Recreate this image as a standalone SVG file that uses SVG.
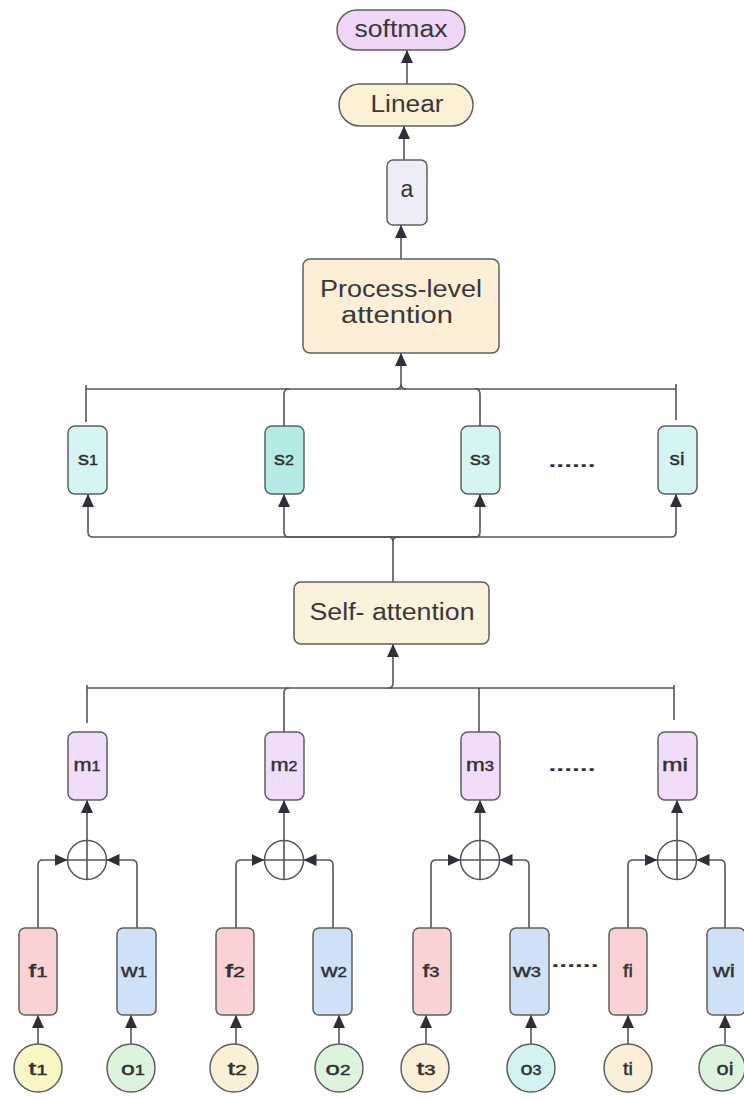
<svg xmlns="http://www.w3.org/2000/svg" width="744" height="1101" viewBox="0 0 744 1101">
<style>
.box{stroke:#5f5f5f;stroke-width:1.5}
.ln{fill:none;stroke:#555;stroke-width:1.6}
.ar{marker-end:url(#ah)}
text{font-family:"Liberation Sans",Arial,sans-serif;fill:#333;text-anchor:middle}
.big{font-size:23px;fill:#383838}
.sm{font-size:19px;stroke:#2a2a2a;stroke-width:0.4}
.d{font-size:14px}
.dots{font-size:18px;font-weight:bold;fill:#333}
.op{fill:#fff;stroke:#555;stroke-width:1.5}
</style>
<defs>
<marker id="ah" markerUnits="userSpaceOnUse" markerWidth="13" markerHeight="12" refX="13" refY="6" orient="auto"><path d="M0,0 L13,6 L0,12 z" fill="#2d3038"/></marker>
</defs>
<rect width="744" height="1101" fill="#fff"/>

<g id="connectors">
<path class="ln ar" d="M407,84 V50"/>
<path class="ln ar" d="M404,160 V126"/>
<path class="ln ar" d="M401,259 V225"/>
<path class="ln ar" d="M401,384 V353"/>
<path class="ln" d="M396,389 Q401,389 401,384 Q401,389 406,389"/>
<path class="ln" d="M86,389 H676"/>
<path class="ln" d="M86,385 V422"/>
<path class="ln" d="M676,384 V420"/>
<path class="ln" d="M284,426 V394 Q284,389 289,389"/>
<path class="ln" d="M480,426 V394 Q480,389 475,389"/>
<path class="ln" d="M393,582 V542 Q393,537 388,537 M393,542 Q393,537 398,537"/>
<path class="ln ar" d="M393,537 H93 Q88,537 88,532 V494"/>
<path class="ln ar" d="M393,537 H289 Q284,537 284,532 V494"/>
<path class="ln ar" d="M393,537 H475 Q480,537 480,532 V494"/>
<path class="ln ar" d="M393,537 H671 Q676,537 676,532 V494"/>
<path class="ln ar" d="M388,688 Q393,688 393,683 V644"/>
<path class="ln" d="M87,688 H674"/>
<path class="ln" d="M87,685 V723"/>
<path class="ln" d="M284,732 V693 Q284,688 289,688"/>
<path class="ln" d="M479,688 V732"/>
<path class="ln" d="M674,685 V720"/>
<path class="ln ar" d="M87,840.5 V800"/>
<path class="ln ar" d="M38,928 V865 Q38,860 43,860 H67.5"/>
<path class="ln ar" d="M137,928 V865 Q137,860 132,860 H106.5"/>
<path class="ln ar" d="M38,1044 V1015"/>
<path class="ln ar" d="M131,1044 V1015"/>
<path class="ln ar" d="M284,840.5 V800"/>
<path class="ln ar" d="M236,928 V865 Q236,860 241,860 H264.5"/>
<path class="ln ar" d="M333,928 V865 Q333,860 328,860 H303.5"/>
<path class="ln ar" d="M236,1044 V1015"/>
<path class="ln ar" d="M339,1044 V1015"/>
<path class="ln ar" d="M480,840.5 V800"/>
<path class="ln ar" d="M431,928 V865 Q431,860 436,860 H460.5"/>
<path class="ln ar" d="M529,928 V865 Q529,860 524,860 H499.5"/>
<path class="ln ar" d="M426,1044 V1015"/>
<path class="ln ar" d="M531,1044 V1015"/>
<path class="ln ar" d="M677,840.5 V800"/>
<path class="ln ar" d="M628,928 V865 Q628,860 633,860 H657.5"/>
<path class="ln ar" d="M725,928 V865 Q725,860 720,860 H696.5"/>
<path class="ln ar" d="M628,1044 V1015"/>
<path class="ln ar" d="M725,1044 V1015"/>
</g>

<g id="softmax"><rect class="box" x="337" y="10" width="128" height="40" rx="20" fill="#efd6f6"/><text class="big" x="401" y="37" textLength="93" lengthAdjust="spacingAndGlyphs">softmax</text></g>
<g id="linear"><rect class="box" x="339" y="84" width="134" height="42" rx="21" fill="#fcf0d5"/><text class="big" x="407" y="112" textLength="73" lengthAdjust="spacingAndGlyphs">Linear</text></g>
<g id="a"><rect class="box" x="387" y="160" width="40" height="65" rx="6" fill="#ededf7"/><text class="big" x="407" y="197">a</text></g>
<g id="process"><rect class="box" x="303" y="259" width="196" height="94" rx="7" fill="#fcefd6"/><text class="big" x="401" y="297" textLength="162" lengthAdjust="spacingAndGlyphs">Process-level</text><text class="big" x="397" y="323" textLength="112" lengthAdjust="spacingAndGlyphs">attention</text></g>

<g id="s1"><rect class="box" x="68" y="426" width="39" height="68" rx="7" fill="#d4f5f3"/><text class="sm" x="88" y="465" textLength="20" lengthAdjust="spacingAndGlyphs">s<tspan class="d">1</tspan></text></g>
<g id="s2"><rect class="box" x="265" y="426" width="39" height="68" rx="7" fill="#b4ebe7"/><text class="sm" x="284" y="465" textLength="20" lengthAdjust="spacingAndGlyphs">s<tspan class="d">2</tspan></text></g>
<g id="s3"><rect class="box" x="461" y="426" width="39" height="68" rx="7" fill="#d4f5f3"/><text class="sm" x="480" y="465" textLength="20" lengthAdjust="spacingAndGlyphs">s<tspan class="d">3</tspan></text></g>
<g id="si"><rect class="box" x="658" y="426" width="39" height="68" rx="7" fill="#d4f5f3"/><text class="sm" x="677" y="465" textLength="15" lengthAdjust="spacingAndGlyphs">si</text></g>
<text class="dots" x="572" y="467" textLength="47" lengthAdjust="spacingAndGlyphs">......</text>

<g id="self-attention"><rect class="box" x="294" y="582" width="195" height="62" rx="7" fill="#fcf2dc"/><text class="big" x="392" y="620" textLength="165" lengthAdjust="spacingAndGlyphs">Self- attention</text></g>

<g id="m1"><rect class="box" x="68" y="732" width="39" height="68" rx="7" fill="#f1dcfa"/><text class="sm" x="87" y="771" textLength="27" lengthAdjust="spacingAndGlyphs">m<tspan class="d">1</tspan></text></g>
<g id="m2"><rect class="box" x="265" y="732" width="39" height="68" rx="7" fill="#f1dcfa"/><text class="sm" x="284" y="771" textLength="27" lengthAdjust="spacingAndGlyphs">m<tspan class="d">2</tspan></text></g>
<g id="m3"><rect class="box" x="461" y="732" width="39" height="68" rx="7" fill="#f1dcfa"/><text class="sm" x="480" y="771" textLength="28" lengthAdjust="spacingAndGlyphs">m<tspan class="d">3</tspan></text></g>
<g id="mi"><rect class="box" x="658" y="732" width="39" height="68" rx="7" fill="#f1dcfa"/><text class="sm" x="675" y="771" textLength="26" lengthAdjust="spacingAndGlyphs">mi</text></g>
<text class="dots" x="572" y="771" textLength="47" lengthAdjust="spacingAndGlyphs">......</text>

<g id="plus1"><circle class="op" cx="87" cy="860" r="19.5"/><path class="ln" d="M67.5,860 H106.5 M87,840.5 V879.5"/></g>
<g id="plus2"><circle class="op" cx="284" cy="860" r="19.5"/><path class="ln" d="M264.5,860 H303.5 M284,840.5 V879.5"/></g>
<g id="plus3"><circle class="op" cx="480" cy="860" r="19.5"/><path class="ln" d="M460.5,860 H499.5 M480,840.5 V879.5"/></g>
<g id="plus4"><circle class="op" cx="677" cy="860" r="19.5"/><path class="ln" d="M657.5,860 H696.5 M677,840.5 V879.5"/></g>

<g id="f1"><rect class="box" x="19" y="928" width="38" height="87" rx="6" fill="#f9d3d4"/><text class="sm" x="38" y="977" textLength="19" lengthAdjust="spacingAndGlyphs">f<tspan class="d">1</tspan></text></g>
<g id="w1"><rect class="box" x="117" y="928" width="39" height="87" rx="6" fill="#cfe1f7"/><text class="sm" x="134" y="977" textLength="26" lengthAdjust="spacingAndGlyphs">w<tspan class="d">1</tspan></text></g>
<g id="f2"><rect class="box" x="216" y="928" width="38" height="87" rx="6" fill="#f9d3d4"/><text class="sm" x="235" y="977" textLength="20" lengthAdjust="spacingAndGlyphs">f<tspan class="d">2</tspan></text></g>
<g id="w2"><rect class="box" x="313" y="928" width="39" height="87" rx="6" fill="#cfe1f7"/><text class="sm" x="334" y="977" textLength="26" lengthAdjust="spacingAndGlyphs">w<tspan class="d">2</tspan></text></g>
<g id="f3"><rect class="box" x="413" y="928" width="38" height="87" rx="6" fill="#f9d3d4"/><text class="sm" x="431" y="977" textLength="17" lengthAdjust="spacingAndGlyphs">f<tspan class="d">3</tspan></text></g>
<g id="w3"><rect class="box" x="510" y="928" width="39" height="87" rx="6" fill="#cfe1f7"/><text class="sm" x="527" y="977" textLength="28" lengthAdjust="spacingAndGlyphs">w<tspan class="d">3</tspan></text></g>
<text class="dots" x="575" y="967" textLength="47" lengthAdjust="spacingAndGlyphs">......</text>
<g id="fi"><rect class="box" x="609" y="928" width="38" height="87" rx="6" fill="#f9d3d4"/><text class="sm" x="628" y="977" textLength="10" lengthAdjust="spacingAndGlyphs">fi</text></g>
<g id="wi"><rect class="box" x="707" y="928" width="38" height="87" rx="6" fill="#cfe1f7"/><text class="sm" x="724" y="977" textLength="22" lengthAdjust="spacingAndGlyphs">wi</text></g>

<g id="t1"><circle class="box" cx="38" cy="1068" r="24" fill="#f8f6c2"/><text class="sm" x="38" y="1075" textLength="19" lengthAdjust="spacingAndGlyphs">t<tspan class="d">1</tspan></text></g>
<g id="o1"><circle class="box" cx="131" cy="1068" r="24" fill="#dcf3dc"/><text class="sm" x="133" y="1075" textLength="24" lengthAdjust="spacingAndGlyphs">o<tspan class="d">1</tspan></text></g>
<g id="t2"><circle class="box" cx="234" cy="1068" r="24" fill="#fbf0d6"/><text class="sm" x="237" y="1075" textLength="19" lengthAdjust="spacingAndGlyphs">t<tspan class="d">2</tspan></text></g>
<g id="o2"><circle class="box" cx="339" cy="1068" r="24" fill="#dcf3dc"/><text class="sm" x="338" y="1075" textLength="25" lengthAdjust="spacingAndGlyphs">o<tspan class="d">2</tspan></text></g>
<g id="t3"><circle class="box" cx="425" cy="1068" r="24" fill="#fbf0d6"/><text class="sm" x="426" y="1075" textLength="19" lengthAdjust="spacingAndGlyphs">t<tspan class="d">3</tspan></text></g>
<g id="o3"><circle class="box" cx="531" cy="1068" r="24" fill="#d3f3f2"/><text class="sm" x="531" y="1075" textLength="21" lengthAdjust="spacingAndGlyphs">o<tspan class="d">3</tspan></text></g>
<g id="ti"><circle class="box" cx="628" cy="1068" r="24" fill="#fbf0d6"/><text class="sm" x="628" y="1075" textLength="10" lengthAdjust="spacingAndGlyphs">ti</text></g>
<g id="oi"><circle class="box" cx="722" cy="1068" r="23" fill="#dcf3dc"/><text class="sm" x="725" y="1075" textLength="17" lengthAdjust="spacingAndGlyphs">oi</text></g>
</svg>
